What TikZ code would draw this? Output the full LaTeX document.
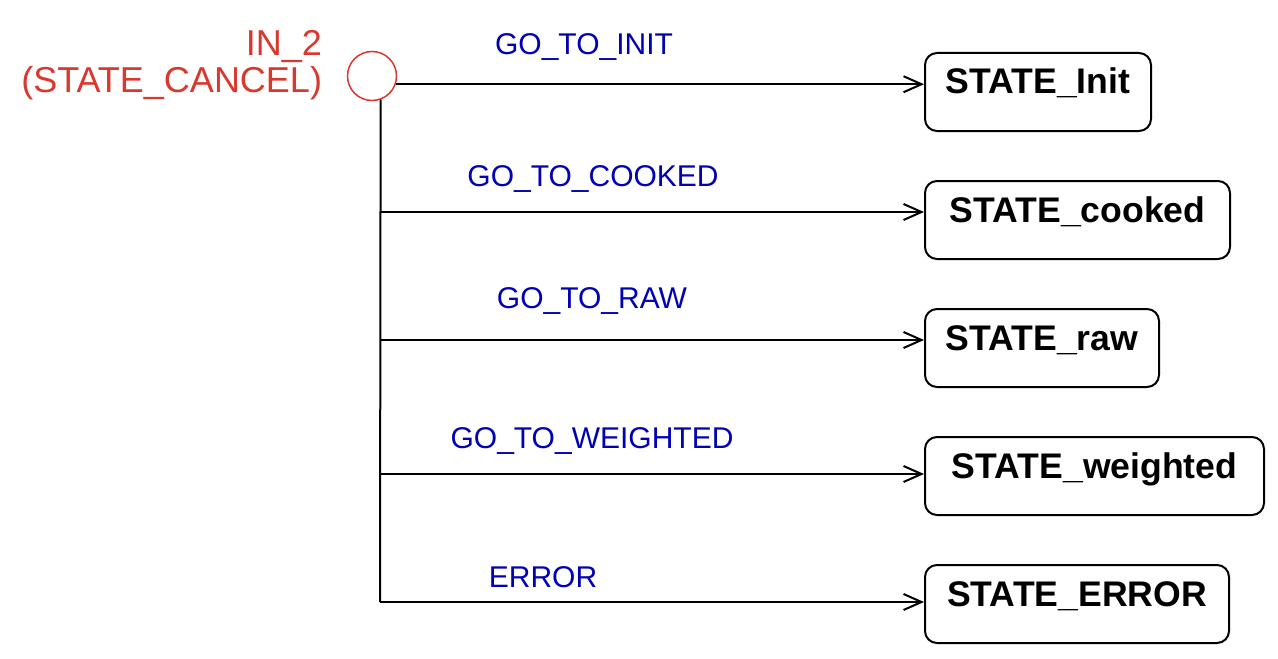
\documentclass[tikz,border=0pt]{standalone}
\usepackage{fontspec}
\setmainfont{Liberation Sans}
\usetikzlibrary{arrows.meta,positioning}
\definecolor{pinred}{RGB}{217,56,46}
\definecolor{evblue}{RGB}{0,0,180}

\begin{document}
\begin{tikzpicture}[x=0.5pt,y=-0.5pt,line width=1pt,
    state/.style={draw,rounded corners=6pt,anchor=north west,inner sep=0pt,
      minimum height=39pt,text height=20.5pt,text depth=18.5pt,
      font=\fontsize{17.8}{21}\selectfont\bfseries},
    evt/.style={text=evblue,inner sep=0pt,font=\fontsize{15}{18}\selectfont},
    trans/.style={-{Straight Barb[length=9pt,width=8pt]}}]
        \useasboundingbox (0,0) rectangle (1278,658);

        % pin and its name
        \node[circle,draw=pinred,line width=0.75pt,minimum size=24.5pt,inner sep=0pt] (in2) at (372,76) {};
        \node[text=pinred,align=right,anchor=base east,inner sep=0pt,
              font=\fontsize{18}{18}\selectfont] (pin) at (323,92) {IN\_2\\(STATE\_CANCEL)};

        % states
        \node[state,minimum width=113pt] (sinit) at (924,52) {STATE\_Init};
        \node[state,minimum width=152.5pt] (scooked) at (924,180) {STATE\_cooked};
        \node[state,minimum width=117pt] (sraw) at (924,308) {STATE\_raw};
        \node[state,minimum width=169.5pt] (sweighted) at (924,436) {STATE\_weighted};
        \node[state,minimum width=152pt] (serror) at (924,564) {STATE\_ERROR};

        % branch points
        \coordinate (jcooked) at (380,212);
        \coordinate (jraw) at (380,340);
        \coordinate (jweighted) at (380,474);
        \coordinate (jerror) at (380,602);

        % transitions
        \draw[trans] (in2.-19.5) -- (in2.-19.5 -| sinit.west);
        \draw (in2.-70.5) -- (jerror);
        \draw[trans] (jcooked) -- (jcooked -| scooked.west);
        \draw[trans] (jraw) -- (jraw -| sraw.west);
        \draw[trans] (jweighted) -- (jweighted -| sweighted.west);
        \draw[trans] (jerror) -- (jerror -| serror.west);

        % events
        \node[evt] (einit) at (584,47) {GO\_TO\_INIT};
        \node[evt] (ecooked) at (593,179) {GO\_TO\_COOKED};
        \node[evt] (eraw) at (592,301) {GO\_TO\_RAW};
        \node[evt] (eweighted) at (592,441) {GO\_TO\_WEIGHTED};
        \node[evt] (eerror) at (543,577) {ERROR};
\end{tikzpicture}
\end{document}
